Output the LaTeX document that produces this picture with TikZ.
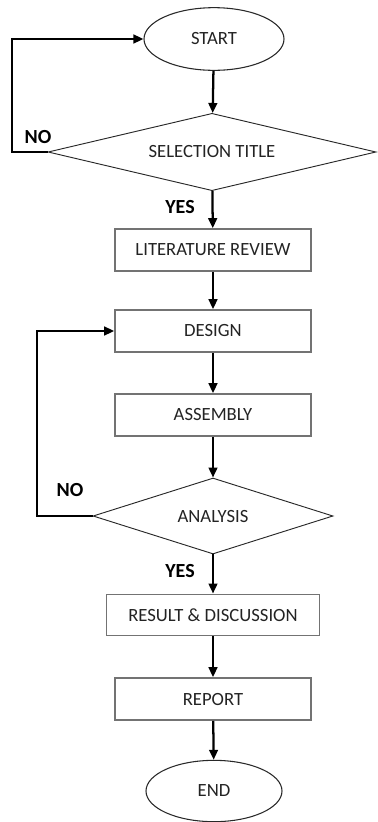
\documentclass[tikz,border=0pt]{standalone}
\usepackage{fontspec}
\setmainfont{Carlito}
\usepackage{tikz}
\usetikzlibrary{shapes.geometric,arrows.meta}

\begin{document}
\begin{tikzpicture}[x=0.75pt,y=0.75pt,yscale=-1,xscale=1,
  terminal/.style={ellipse,draw={rgb,255:red,40;green,40;blue,40},line width=0.8pt,inner sep=0pt,text={rgb,255:red,35;green,35;blue,35}},
  decision/.style={diamond,aspect=6,draw={rgb,255:red,40;green,40;blue,40},line width=0.7pt,inner sep=0pt,text={rgb,255:red,35;green,35;blue,35}},
  stepbox/.style={rectangle,draw={rgb,255:red,115;green,115;blue,115},line width=1.2pt,inner sep=0pt,text={rgb,255:red,35;green,35;blue,35}},
  flow/.style={line width=1.7pt,-{Triangle[length=7.5pt,width=6.5pt]}},
  yesno/.style={font=\fontsize{15}{17}\selectfont\bfseries,inner sep=0pt}]
\useasboundingbox (0,0) rectangle (378,822);
\fontsize{14}{16}\selectfont

%Shape: Ellipse
\node [terminal,minimum width=105pt,minimum height=47pt] (start) at (214,39) {START};
%Shape: Diamond
\node [decision,minimum width=246pt,minimum height=58pt] (title) at (212,152) {SELECTION TITLE};
%Shape: Rectangle
\node [stepbox,minimum width=147pt,minimum height=31.5pt] (review) at (213,250) {LITERATURE REVIEW};
%Shape: Rectangle
\node [stepbox,minimum width=147pt,minimum height=31.5pt] (design) at (213,331) {DESIGN};
%Shape: Rectangle
\node [stepbox,minimum width=147pt,minimum height=31.5pt] (assembly) at (213,415) {ASSEMBLY};
%Shape: Diamond
\node [decision,minimum width=180pt,minimum height=57pt] (analysis) at (213,516) {ANALYSIS};
%Shape: Rectangle
\node [stepbox,minimum width=160pt,minimum height=31pt] (result) at (213,615) {RESULT \& DISCUSSION};
%Shape: Rectangle
\node [stepbox,minimum width=147pt,minimum height=31.5pt] (report) at (213,699) {REPORT};
%Shape: Ellipse
\node [terminal,minimum width=102pt,minimum height=46pt] (end) at (214,791) {END};

%Straight Lines
\draw [flow] (start) -- (title);
\draw [flow] (title) -- (review);
\draw [flow] (review) -- (design);
\draw [flow] (design) -- (assembly);
\draw [flow] (assembly) -- (analysis);
\draw [flow] (analysis) -- (result);
\draw [flow] (result) -- (report);
\draw [flow] (report) -- (end);
%Loop Lines
\draw [flow] (title.west) -| (12,39) -- (start.west);
\draw [flow] (analysis.west) -| (37,331) -- (design.west);

% Text Node
\node [yesno] (no1) at (38,137) {NO};
% Text Node
\node [yesno] (yes1) at (180,207) {YES};
% Text Node
\node [yesno] (no2) at (70,490) {NO};
% Text Node
\node [yesno] (yes2) at (180,571) {YES};
\end{tikzpicture}
\end{document}
